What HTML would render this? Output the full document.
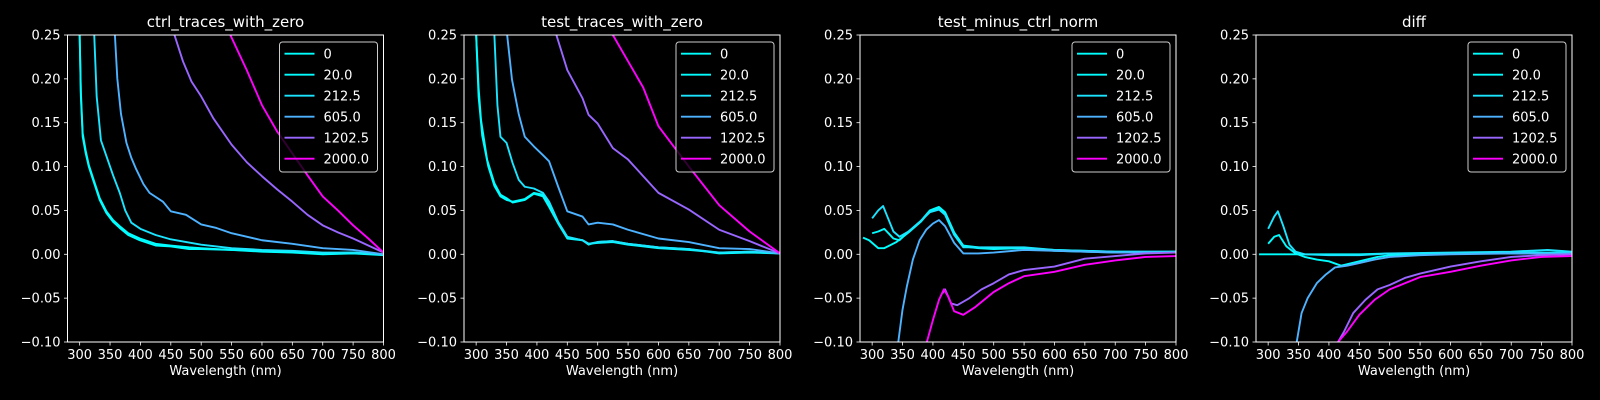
<!DOCTYPE html>
<html><head><meta charset="utf-8"><style>
html,body{margin:0;padding:0;background:#000;}
svg{display:block;font-family:"DejaVu Sans","Liberation Sans",sans-serif;}
</style></head><body>
<svg id="fig" width="1600" height="400" viewBox="0 0 1600 400" xmlns="http://www.w3.org/2000/svg">
<rect width="1600" height="400" fill="#000"/>
</svg>
<script>
const titles = ["ctrl_traces_with_zero","test_traces_with_zero","test_minus_ctrl_norm","diff"];
const seriesLabels = ["0","20.0","212.5","605.0","1202.5","2000.0"];
const seriesDose = [0,20,212.5,605,1202.5,2000];
const xTicks = [300,350,400,450,500,550,600,650,700,750,800];
const yTicks = [-0.10,-0.05,0.00,0.05,0.10,0.15,0.20,0.25];

// panel 1: ctrl
const ctrlWl = [
 [296,300,302,305,310,315,322,333,344,355,366,380,399,425,450,480,500,550,600,650,700,750,800],
 [296,300,302,305,310,315,322,333,344,355,366,380,399,425,450,480,500,550,600,650,700,750,800],
 [322,324,328,335,345,355,366,375,385,400,425,450,500,550,600,650,700,750,800],
 [356,358,362,368,377,385,393,405,415,437,450,475,500,525,550,600,650,700,750,800],
 [450,456,470,484,500,520,550,575,600,625,650,675,700,725,750,775,800],
 [540,548,575,600,625,650,675,700,725,750,775,800]];
const ctrlVal = [
 [0.40,0.25,0.18,0.134,0.115,0.10,0.085,0.062,0.047,0.037,0.030,0.022,0.016,0.010,0.009,0.006,0.006,0.005,0.003,0.002,0.000,0.001,-0.001],
 [0.40,0.25,0.185,0.138,0.118,0.102,0.087,0.064,0.049,0.039,0.032,0.024,0.018,0.012,0.010,0.008,0.007,0.005,0.004,0.003,0.001,0.002,0.000],
 [0.40,0.25,0.18,0.13,0.11,0.09,0.07,0.05,0.036,0.029,0.022,0.017,0.011,0.007,0.005,0.004,0.002,0.002,0.000],
 [0.35,0.25,0.20,0.16,0.127,0.11,0.097,0.08,0.07,0.06,0.049,0.045,0.034,0.030,0.024,0.016,0.012,0.007,0.005,0.000],
 [0.27,0.25,0.22,0.197,0.18,0.155,0.125,0.105,0.089,0.074,0.060,0.045,0.033,0.025,0.018,0.010,0.002],
 [0.27,0.25,0.21,0.17,0.14,0.115,0.09,0.066,0.05,0.033,0.018,0.002]];

// panel 2: test
const testWl = [
 [296,300,304,308,318,330,340,350,360,380,395,410,420,435,450,475,485,500,525,550,600,650,700,750,800],
 [296,300,304,310,320,330,340,350,360,380,395,410,420,435,450,475,485,500,525,550,600,650,700,750,800],
 [326,330,335,340,350,360,370,380,395,410,420,435,450,475,485,500,525,550,600,650,700,750,800],
 [348,351,359,370,380,395,410,420,435,450,475,485,500,525,550,600,650,700,750,800],
 [425,432,450,475,485,500,525,550,575,600,650,700,750,800],
 [515,525,550,575,600,650,700,750,800]];
const testVal = [
 [0.40,0.25,0.19,0.153,0.108,0.081,0.068,0.064,0.059,0.062,0.069,0.066,0.054,0.035,0.018,0.016,0.011,0.014,0.015,0.012,0.008,0.006,0.001,0.002,0.001],
 [0.40,0.25,0.18,0.135,0.100,0.078,0.066,0.062,0.060,0.063,0.070,0.068,0.056,0.036,0.019,0.016,0.012,0.013,0.014,0.011,0.007,0.005,0.002,0.003,0.001],
 [0.35,0.25,0.17,0.134,0.127,0.104,0.085,0.077,0.075,0.070,0.060,0.037,0.020,0.016,0.012,0.014,0.015,0.012,0.008,0.006,0.002,0.003,0.001],
 [0.32,0.25,0.199,0.16,0.134,0.123,0.113,0.106,0.077,0.049,0.043,0.034,0.036,0.034,0.028,0.018,0.014,0.007,0.006,0.001],
 [0.28,0.25,0.21,0.178,0.159,0.149,0.121,0.108,0.089,0.070,0.051,0.028,0.015,0.001],
 [0.28,0.25,0.22,0.19,0.146,0.10,0.056,0.026,0.001]];

// panel 3: test minus ctrl norm
const normWl = [
 [285,295,310,320,340,360,380,395,410,420,435,450,475,500,550,600,700,800],
 [300,310,320,335,345,360,380,395,410,420,435,450,475,500,550,600,700,800],
 [300,310,318,325,335,345,360,380,395,410,420,435,450,475,550,600,700,800],
 [343,350,357,367,378,389,400,410,420,435,450,475,500,550,600,700,800],
 [415,420,430,440,460,480,500,525,550,600,650,700,750,800],
 [390,400,410,418,425,435,450,470,500,525,550,600,650,700,750,800]];
const normVal = [
 [0.019,0.016,0.007,0.007,0.014,0.025,0.037,0.049,0.053,0.047,0.024,0.009,0.007,0.006,0.007,0.004,0.002,0.003],
 [0.024,0.026,0.029,0.018,0.016,0.026,0.038,0.050,0.054,0.048,0.025,0.010,0.008,0.007,0.007,0.005,0.003,0.003],
 [0.041,0.050,0.055,0.043,0.026,0.020,0.026,0.038,0.048,0.051,0.045,0.022,0.008,0.008,0.008,0.005,0.003,0.003],
 [-0.10,-0.063,-0.037,-0.006,0.016,0.028,0.035,0.039,0.032,0.013,0.001,0.001,0.002,0.005,0.004,0.002,0.002],
 [-0.045,-0.040,-0.056,-0.058,-0.050,-0.040,-0.033,-0.023,-0.018,-0.014,-0.005,-0.002,0.001,0.002],
 [-0.10,-0.075,-0.052,-0.040,-0.048,-0.065,-0.069,-0.060,-0.043,-0.033,-0.025,-0.020,-0.012,-0.007,-0.003,-0.002]];

// panel 4: diff
const diffWl = [
 [285,350,400,450,500,600,700,800],
 [300,310,318,330,345,360,380,400,420,450,480,500,550,600,700,800],
 [300,310,316,325,335,345,360,400,450,500,600,700,760,800],
 [347,355,365,380,395,410,430,450,475,500,550,600,700,800],
 [415,425,440,460,480,500,525,550,600,650,700,750,800],
 [415,430,450,475,500,525,550,600,650,700,750,800]];
const diffVal = [
 [0.000,0.000,0.000,0.000,0.001,0.001,0.002,0.002],
 [0.012,0.020,0.022,0.009,0.001,-0.003,-0.006,-0.008,-0.013,-0.008,-0.003,-0.001,0.000,0.001,0.001,0.001],
 [0.029,0.043,0.049,0.032,0.011,0.003,0.000,-0.001,-0.001,0.001,0.002,0.003,0.005,0.003],
 [-0.10,-0.067,-0.050,-0.033,-0.023,-0.015,-0.013,-0.010,-0.006,-0.003,-0.001,0.000,0.001,0.001],
 [-0.10,-0.088,-0.067,-0.052,-0.040,-0.035,-0.027,-0.022,-0.014,-0.008,-0.003,-0.001,0.000],
 [-0.10,-0.088,-0.069,-0.052,-0.040,-0.033,-0.026,-0.020,-0.013,-0.007,-0.003,-0.002]];

const panelWl = [ctrlWl,testWl,normWl,diffWl];
const panelVal = [ctrlVal,testVal,normVal,diffVal];

const NS="http://www.w3.org/2000/svg";
const svg=document.getElementById('fig');
const lefts=[67.5,464,860,1256], AW=316, AT=35, AH=307;
const XMIN=280,XMAX=800,YMIN=-0.10,YMAX=0.25;
function el(tag,attrs,parent){const e=document.createElementNS(NS,tag);for(const k in attrs)e.setAttribute(k,attrs[k]);(parent||svg).appendChild(e);return e;}
function color(d){const r=d/2000;return `rgb(${Math.round(r*255)},${Math.round((1-r)*255)},255)`;}
function fmt(v){const s=Math.abs(v).toFixed(2);return (v<-1e-9?'\u2212':'')+s;}

for(let p=0;p<4;p++){
  const L=lefts[p];
  const sx=v=>L+(v-XMIN)/(XMAX-XMIN)*AW;
  const sy=v=>AT+(YMAX-v)/(YMAX-YMIN)*AH;
  const g=el('g',{});
  
  
  const cp=el('clipPath',{id:'clip'+p},g);
  el('rect',{x:L,y:AT,width:AW,height:AH},cp);
  const sg=el('g',{'clip-path':`url(#clip${p})`},g);
  for(let s=0;s<6;s++){
    const wl=panelWl[p][s], vv=panelVal[p][s];
    const pts=wl.map((w,i)=>sx(w).toFixed(2)+','+sy(vv[i]).toFixed(2)).join(' ');
    const pl=el('polyline',{points:pts,fill:'none',stroke:color(seriesDose[s]),'stroke-width':1.9,'stroke-linejoin':'round'},sg);
    
    
  }
  const fr=el('rect',{x:L,y:AT,width:AW,height:AH,fill:'none',stroke:'#fff','stroke-width':1},g);
  
  
  xTicks.forEach(t=>{
    const x=sx(t);
    el('line',{x1:x,x2:x,y1:AT+AH,y2:AT+AH+3.5,stroke:'#fff','stroke-width':0.8},g);
    const tx=el('text',{x:x,y:AT+AH+17,fill:'#fff','font-size':13,'text-anchor':'middle'},g);
    tx.textContent=t;
    
    
  });
  yTicks.forEach(t=>{
    const y=sy(t);
    el('line',{x1:L-3.5,x2:L,y1:y,y2:y,stroke:'#fff','stroke-width':0.8},g);
    const tx=el('text',{x:L-7,y:y+4.5,fill:'#fff','font-size':13,'text-anchor':'end'},g);
    tx.textContent=fmt(t);
    
    
  });
  const xl=el('text',{x:L+AW/2,y:AT+AH+33,fill:'#fff','font-size':13,'text-anchor':'middle'},g);
  xl.textContent='Wavelength (nm)';
  
  
  const tt=el('text',{x:L+AW/2,y:AT-8,fill:'#fff','font-size':15,'text-anchor':'middle'},g);
  tt.textContent=titles[p];
  
  
  const lg=el('g',{},g);
  
  
  const LX=L+AW-6-98, LY=42;
  el('rect',{x:LX,y:LY,width:98,height:130,rx:3,fill:'#000','fill-opacity':0.8,stroke:'#ccc','stroke-width':1},lg);
  for(let s=0;s<6;s++){
    const y=LY+11.7+s*21;
    const e=el('g',{},lg);
    
    
    el('line',{x1:LX+5,x2:LX+35,y1:y,y2:y,stroke:color(seriesDose[s]),'stroke-width':1.9},e);
    const t=el('text',{x:LX+44,y:y+5,fill:'#fff','font-size':13},e);
    t.textContent=seriesLabels[s];
  }
}
</script>
</body></html>
